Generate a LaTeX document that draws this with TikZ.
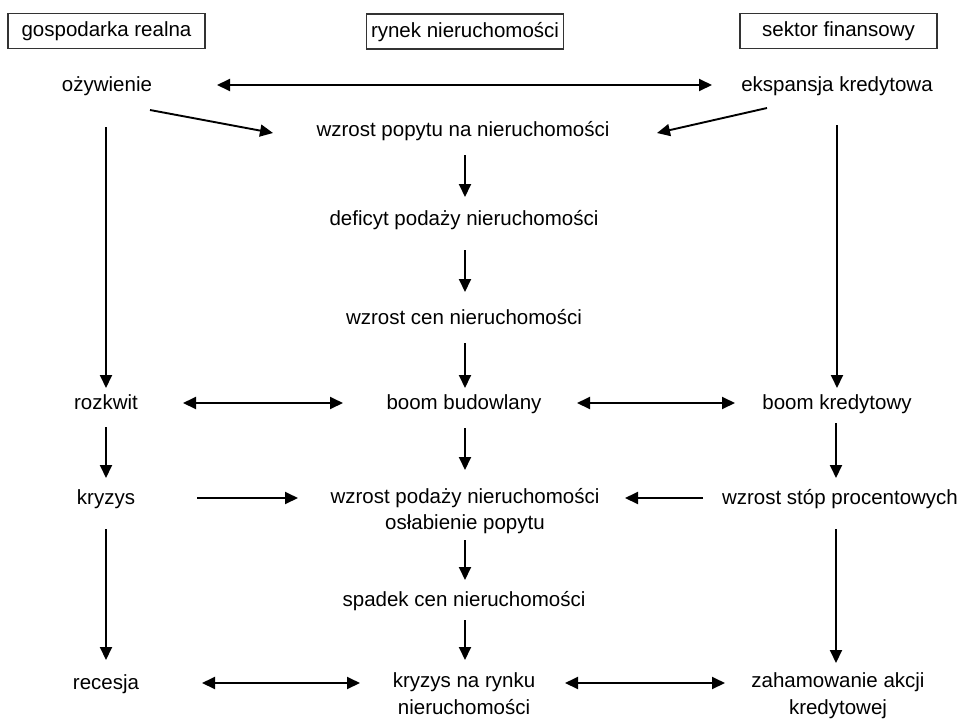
\documentclass[tikz,border=0pt]{standalone}
\usepackage{fontspec}
\setmainfont{Liberation Sans}
\usetikzlibrary{arrows.meta,calc}
\tikzset{
  hdr/.style={draw=black!80, line width=1.4pt, minimum width=197pt, minimum height=35pt, inner sep=0pt, font=\fontsize{20.5}{26}\selectfont, text height=15pt, text depth=4pt},
  lbl/.style={inner sep=0pt, font=\fontsize{20.5}{26}\selectfont, text height=15pt, text depth=4pt},
  lbltwo/.style={inner sep=0pt, align=center, font=\fontsize{20.5}{26}\selectfont},
  conn/.style={line width=1.9pt, -{Triangle[length=13pt,width=12pt]}},
  dconn/.style={line width=1.9pt, {Triangle[length=13pt,width=12pt]}-{Triangle[length=13pt,width=12pt]}}
}
\begin{document}
\begin{tikzpicture}[x=1pt,y=-1pt]
\useasboundingbox (0,0) rectangle (959,718);
% headers
\node[hdr] (h1) at (106.5,31) {gospodarka realna};
\node[hdr] (h2) at (465,31.5) {rynek nieruchomości};
\node[hdr] (h3) at (838.5,31) {sektor finansowy};
% labels
\node[lbl] (oz) at (107,86) {ożywienie};
\node[lbl] (eks) at (837,86) {ekspansja kredytowa};
\node[lbl] (pop) at (463,131) {wzrost popytu na nieruchomości};
\node[lbl] (def) at (464,220) {deficyt podaży nieruchomości};
\node[lbl] (cen) at (464,319) {wzrost cen nieruchomości};
\node[lbl] (roz) at (106,404) {rozkwit};
\node[lbl] (bbud) at (464,404) {boom budowlany};
\node[lbl] (bkred) at (837,404) {boom kredytowy};
\node[lbl] (kryz) at (106,499) {kryzys};
\node[lbltwo] (podaz) at (465,511) {wzrost podaży nieruchomości\\osłabienie popytu};
\node[lbl] (stop) at (840,499) {wzrost stóp procentowych};
\node[lbl] (spad) at (464,601) {spadek cen nieruchomości};
\node[lbl] (rec) at (106,684) {recesja};
\node[lbltwo] (kn) at (464,694) {kryzys na rynku\\[1pt]nieruchomości};
\node[lbltwo] (zah) at (838,696) {zahamowanie akcji\\[1pt]kredytowej};
% connectors
\draw[dconn] ($(oz)+(110,-1)$) -- ($(eks)+(-125,-1)$);
\draw[conn] ($(oz)+(43,24)$) -- ($(pop)+(-190,2)$);
\draw[conn] ($(eks)+(-70,22)$) -- ($(pop)+(194,2)$);
\draw[conn] ($(oz)+(-1,41)$) -- ($(roz)+(0,-16)$);
\draw[conn] ($(eks)+(0,39)$) -- ($(bkred)+(0,-16)$);
\draw[conn] ($(pop)+(2,24)$) -- ($(def)+(1,-23)$);
\draw[conn] ($(def)+(1,30)$) -- ($(cen)+(1,-27)$);
\draw[conn] ($(cen)+(1,24)$) -- ($(bbud)+(1,-16)$);
\draw[dconn] ($(roz)+(77,-1)$) -- ($(bbud)+(-121,-1)$);
\draw[dconn] ($(bbud)+(113,-1)$) -- ($(bkred)+(-102,-1)$);
\draw[conn] ($(roz)+(0,23)$) -- ($(kryz)+(0,-21)$);
\draw[conn] ($(bbud)+(1,24)$) -- ($(podaz)+(0,-41)$);
\draw[conn] ($(bkred)+(-1,19)$) -- ($(stop)+(-4,-21)$);
\draw[conn] ($(kryz)+(91,-1)$) -- ($(podaz)+(-167,-13)$);
\draw[conn] ($(stop)+(-137,-1)$) -- ($(podaz)+(160,-13)$);
\draw[conn] ($(kryz)+(0,30)$) -- ($(rec)+(0,-24)$);
\draw[conn] ($(podaz)+(0,29)$) -- ($(spad)+(1,-21)$);
\draw[conn] ($(spad)+(1,19)$) -- ($(kn)+(1,-34)$);
\draw[conn] ($(stop)+(-4,30)$) -- ($(zah)+(-2,-33)$);
\draw[dconn] ($(rec)+(96,-1)$) -- ($(kn)+(-104,-11)$);
\draw[dconn] ($(kn)+(101,-11)$) -- ($(zah)+(-113,-13)$);
\end{tikzpicture}
\end{document}
